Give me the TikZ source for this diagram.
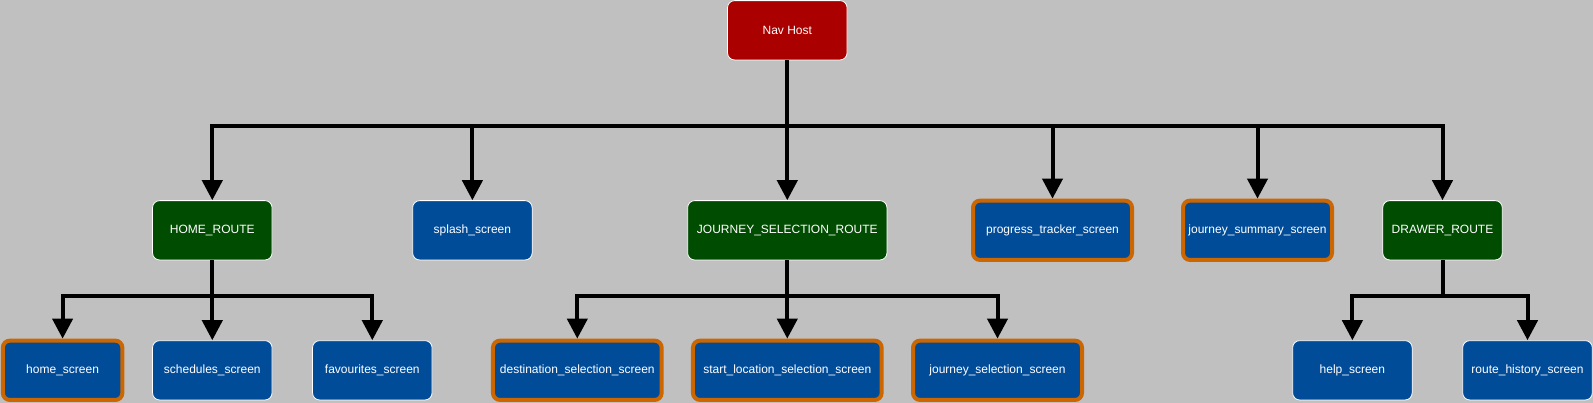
\documentclass[tikz,border=0pt]{standalone}
\usepackage{xcolor}
\usepackage{tikz}
\usepackage{fontspec}
\setmainfont{Liberation Sans}
\usetikzlibrary{arrows.meta, positioning}
\definecolor{canvasgray}{RGB}{192,192,192}
\definecolor{hostred}{RGB}{170,0,0}
\definecolor{routegreen}{RGB}{0,76,0}
\definecolor{screenblue}{RGB}{0,76,153}
\definecolor{activeorange}{RGB}{204,102,0}

\begin{document}
\begin{tikzpicture}[
    x=1pt, y=-1pt,
    every node/.style={rectangle, rounded corners=7pt, draw=white, line width=0.8pt, minimum width=119.5pt, minimum height=59.3pt, inner xsep=0pt, text=white, font=\fontsize{12}{14}\selectfont},
    host/.style={fill=hostred},
    route/.style={fill=routegreen},
    screen/.style={fill=screenblue},
    active screen/.style={screen, draw=activeorange, line width=4pt},
    link/.style={draw=black, line width=4pt, -{Triangle[width=20pt,length=20pt]}}
]
    \fill[canvasgray] (0,0) rectangle (1593,403);
    \useasboundingbox (0,0) rectangle (1593,403);

    % top
    \node[host] (nav) at (787.3,30.3) {Nav Host};

    % routes and screens
    \node[route] (homeroute) at (212.3,230.3) {HOME\_ROUTE};
    \node[screen] (splash) at (472.4,230.3) {splash\_screen};
    \node[route, minimum width=199.3pt] (jsr) at (787.3,230.3) {JOURNEY\_SELECTION\_ROUTE};
    \node[active screen, minimum width=159pt] (progress) at (1052.5,230.3) {progress\_tracker\_screen};
    \node[active screen, minimum width=149pt] (summary) at (1257.5,230.3) {journey\_summary\_screen};
    \node[route] (drawer) at (1442.5,230.3) {DRAWER\_ROUTE};

    % nested screens
    \node[active screen] (homescr) at (62.6,370.3) {home\_screen};
    \node[screen] (schedules) at (212.3,370.3) {schedules\_screen};
    \node[screen] (favourites) at (372.3,370.3) {favourites\_screen};
    \node[active screen, minimum width=168.7pt] (destination) at (577.3,370.3) {destination\_selection\_screen};
    \node[active screen, minimum width=188.7pt] (startloc) at (787.3,370.3) {start\_location\_selection\_screen};
    \node[active screen, minimum width=169pt] (journeysel) at (997.5,370.3) {journey\_selection\_screen};
    \node[screen] (help) at (1352.4,370.3) {help\_screen};
    \node[screen, minimum width=129.6pt] (history) at (1527.5,370.3) {route\_history\_screen};

    % connectors
    \foreach \c in {homeroute, splash, jsr, progress, summary, drawer}
        \draw[link] (nav.south) -- ++(0,65.7) -| (\c.north);
    \foreach \c in {homescr, schedules, favourites}
        \draw[link] (homeroute.south) -- ++(0,35.3) -| (\c.north);
    \foreach \c in {destination, startloc, journeysel}
        \draw[link] (jsr.south) -- ++(0,35.3) -| (\c.north);
    \foreach \c in {help, history}
        \draw[link] (drawer.south) -- ++(0,35.3) -| (\c.north);
\end{tikzpicture}
\end{document}
